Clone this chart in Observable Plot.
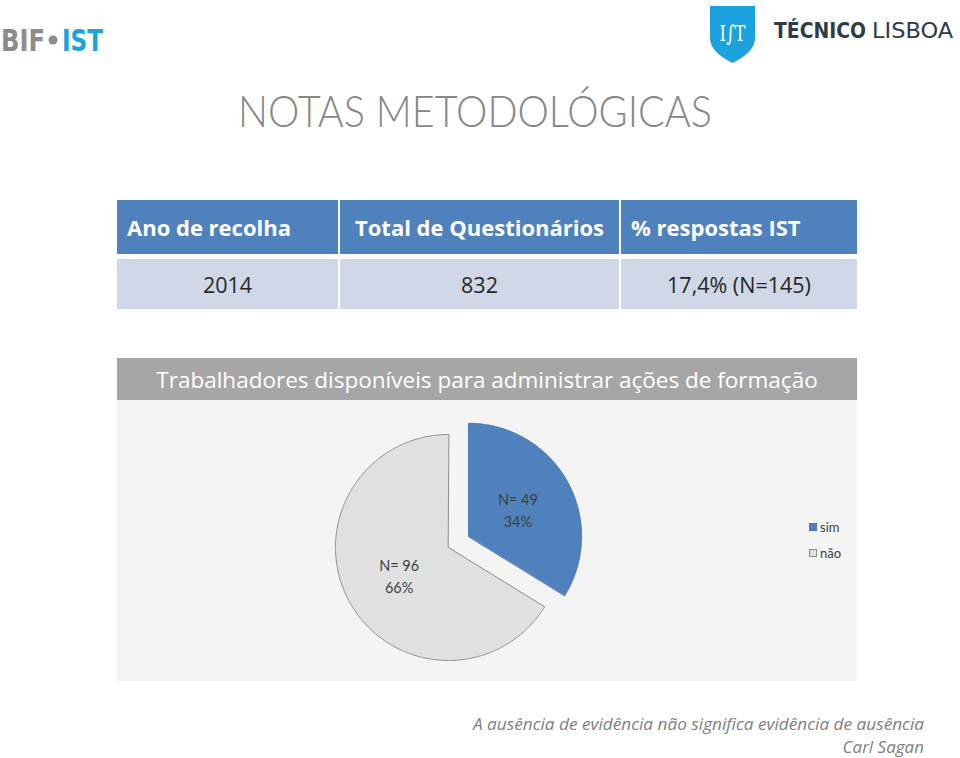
<!DOCTYPE html>
<html><head><meta charset="utf-8">
<script src="https://cdn.jsdelivr.net/npm/d3@7"></script>
<script src="https://cdn.jsdelivr.net/npm/@observablehq/plot@0.6"></script>
<style>
html,body{margin:0;padding:0;background:#fff;}
body{width:960px;height:758px;position:relative;overflow:hidden;font-family:"Open Sans",Lato,sans-serif;}
.abs{position:absolute;}
#table{left:117px;top:200px;width:740px;display:grid;grid-template-columns:221px 279px 236px;grid-template-rows:54px 50px;column-gap:2px;row-gap:5px;}
.th{background:#4f81bd;color:#fff;font-weight:700;font-size:22px;display:flex;align-items:center;}
.td{background:#d0d8e8;color:#262626;font-size:21.5px;display:flex;align-items:center;justify-content:center;}
#band{left:117px;top:358px;width:740px;height:42px;background:#a6a6a6;color:#fff;font-size:22.5px;display:flex;align-items:center;justify-content:center;}
#chartbg{left:117px;top:400px;width:740px;height:281px;background:#f4f4f4;}
#chart{left:117px;top:400px;}
#legend{left:809px;top:514px;font-size:13px;color:#404040;font-family:Lato,sans-serif;}
.lgrow{display:flex;align-items:center;height:26px;}
.sw{width:8px;height:8px;margin-right:3px;box-sizing:border-box;}
</style></head><body>
<svg class="abs" style="left:0;top:0" width="960" height="140">
  <text x="1" y="51" font-family="DejaVu Sans Condensed, DejaVu Sans" font-weight="bold" font-size="30" fill="#8c8c8c" textLength="44" lengthAdjust="spacingAndGlyphs">BIF</text>
  <circle cx="53" cy="40" r="4.5" fill="#8c8c8c"/>
  <text x="62" y="51" font-family="DejaVu Sans Condensed, DejaVu Sans" font-weight="bold" font-size="30" fill="#1ba1dc" textLength="41" lengthAdjust="spacingAndGlyphs">IST</text>
  <path d="M710,6 H755 V38 Q755,52 732.5,63 Q710,52 710,38 Z" fill="#1ba1dc"/>
  <text x="732.5" y="41" text-anchor="middle" font-family="DejaVu Serif" font-size="22" fill="#fff" textLength="26" lengthAdjust="spacingAndGlyphs">I∫T</text>
  <text x="774" y="38" font-family="DejaVu Sans Condensed, DejaVu Sans" font-weight="bold" font-size="22" fill="#2e3b48" textLength="92" lengthAdjust="spacingAndGlyphs">TÉCNICO</text>
  <text x="872" y="38" font-family="DejaVu Sans Condensed, DejaVu Sans" font-size="22" fill="#2e3b48" textLength="81" lengthAdjust="spacingAndGlyphs">LISBOA</text>
  <text id="title" x="475" y="127" text-anchor="middle" font-family="Lato" font-weight="300" font-size="44" fill="#878787" textLength="474" lengthAdjust="spacingAndGlyphs"></text>
</svg>
<div id="table" class="abs"></div>
<div id="band" class="abs"></div>
<div id="chartbg" class="abs"></div>
<div id="chart" class="abs"></div>
<div id="legend" class="abs"></div>
<svg class="abs" style="left:0;top:700px" width="960" height="58">
  <text id="quote" x="924" y="30" text-anchor="end" font-family="Open Sans, Lato" font-style="italic" font-size="17" fill="#808080" textLength="451" lengthAdjust="spacingAndGlyphs"></text>
  <text id="author" x="924" y="53" text-anchor="end" font-family="Open Sans, Lato" font-style="italic" font-size="17" fill="#808080"></text>
</svg>
<script>
// ---- data ----
const pageTitle = "NOTAS METODOLÓGICAS";
const headers = ["Ano de recolha", "Total de Questionários", "% respostas IST"];
const headerAlign = ["flex-start", "center", "flex-start"];
const rowValues = ["2014", "832", "17,4% (N=145)"];
const chartTitle = "Trabalhadores disponíveis para administrar ações de formação";
const categories = ["sim", "não"];
const counts = [49, 96];
const colors = ["#4f81bd", "#e0e0e0"];
const strokes = ["#4a7ab5", "#8c8c8c"];
const quoteText = "A ausência de evidência não significa evidência de ausência";
const quoteAuthor = "Carl Sagan";

document.getElementById("title").textContent = pageTitle;
document.getElementById("quote").textContent = quoteText;
document.getElementById("author").textContent = quoteAuthor;

// ---- table ----
const table = document.getElementById("table");
headers.forEach((h, i) => {
  const d = document.createElement("div");
  d.className = "th"; d.textContent = h;
  d.style.justifyContent = headerAlign[i];
  if (headerAlign[i] === "flex-start") d.style.paddingLeft = "10px";
  table.appendChild(d);
});
rowValues.forEach(v => {
  const d = document.createElement("div");
  d.className = "td"; d.textContent = v;
  table.appendChild(d);
});
document.getElementById("band").textContent = chartTitle;

// ---- pie ----
const W = 740, H = 281, cx = 331, cy = 147, R = 113, explode = 23;
const data = categories.map((c, i) => ({cat: c, count: counts[i]}));
const total = d3.sum(counts);
const arcs = d3.pie().sort(null).value(d => d.count)(data);
const pts = [], labels = [];
arcs.forEach(a => {
  const mid = (a.startAngle + a.endAngle) / 2;
  const e = a.data.cat === "sim" ? explode : 0;
  const dx = e * Math.sin(mid), dy = -e * Math.cos(mid);
  pts.push({cat: a.data.cat, x: dx, y: dy});
  const n = Math.ceil((a.endAngle - a.startAngle) / 0.01);
  for (let k = 0; k <= n; k++) {
    const t = a.startAngle + (a.endAngle - a.startAngle) * k / n;
    pts.push({cat: a.data.cat, x: dx + R * Math.sin(t), y: dy - R * Math.cos(t)});
  }
  labels.push({
    x: dx + 0.5 * R * Math.sin(mid), y: dy - 0.5 * R * Math.cos(mid),
    text: `N= ${a.data.count}\n${d3.format(".0%")(a.data.count / total)}`
  });
});

const chart = Plot.plot({
  width: W, height: H, margin: 0,
  x: {domain: [-cx, W - cx], range: [0, W], axis: null},
  y: {domain: [-cy, H - cy], range: [0, H], axis: null},
  color: {domain: categories, range: colors},
  style: {background: "transparent", overflow: "visible"},
  marks: [
    ...categories.map((c, i) => Plot.line(pts.filter(d => d.cat === c), {
      x: "x", y: "y", fill: "cat", stroke: strokes[i], strokeWidth: 1, curve: "linear-closed"
    })),
    Plot.text(labels, {x: "x", y: "y", text: "text", fontSize: 14.5, fill: "#404040", lineHeight: 1.5, fontFamily: "Lato"})
  ]
});
document.getElementById("chart").appendChild(chart);

// ---- legend ----
const legend = document.getElementById("legend");
categories.forEach((c, i) => {
  const row = document.createElement("div");
  row.className = "lgrow";
  const sw = document.createElement("div");
  sw.className = "sw";
  sw.style.background = colors[i];
  sw.style.border = "1px solid " + strokes[i];
  const lab = document.createElement("span");
  lab.textContent = c;
  row.appendChild(sw); row.appendChild(lab);
  legend.appendChild(row);
});
</script>
</body></html>
